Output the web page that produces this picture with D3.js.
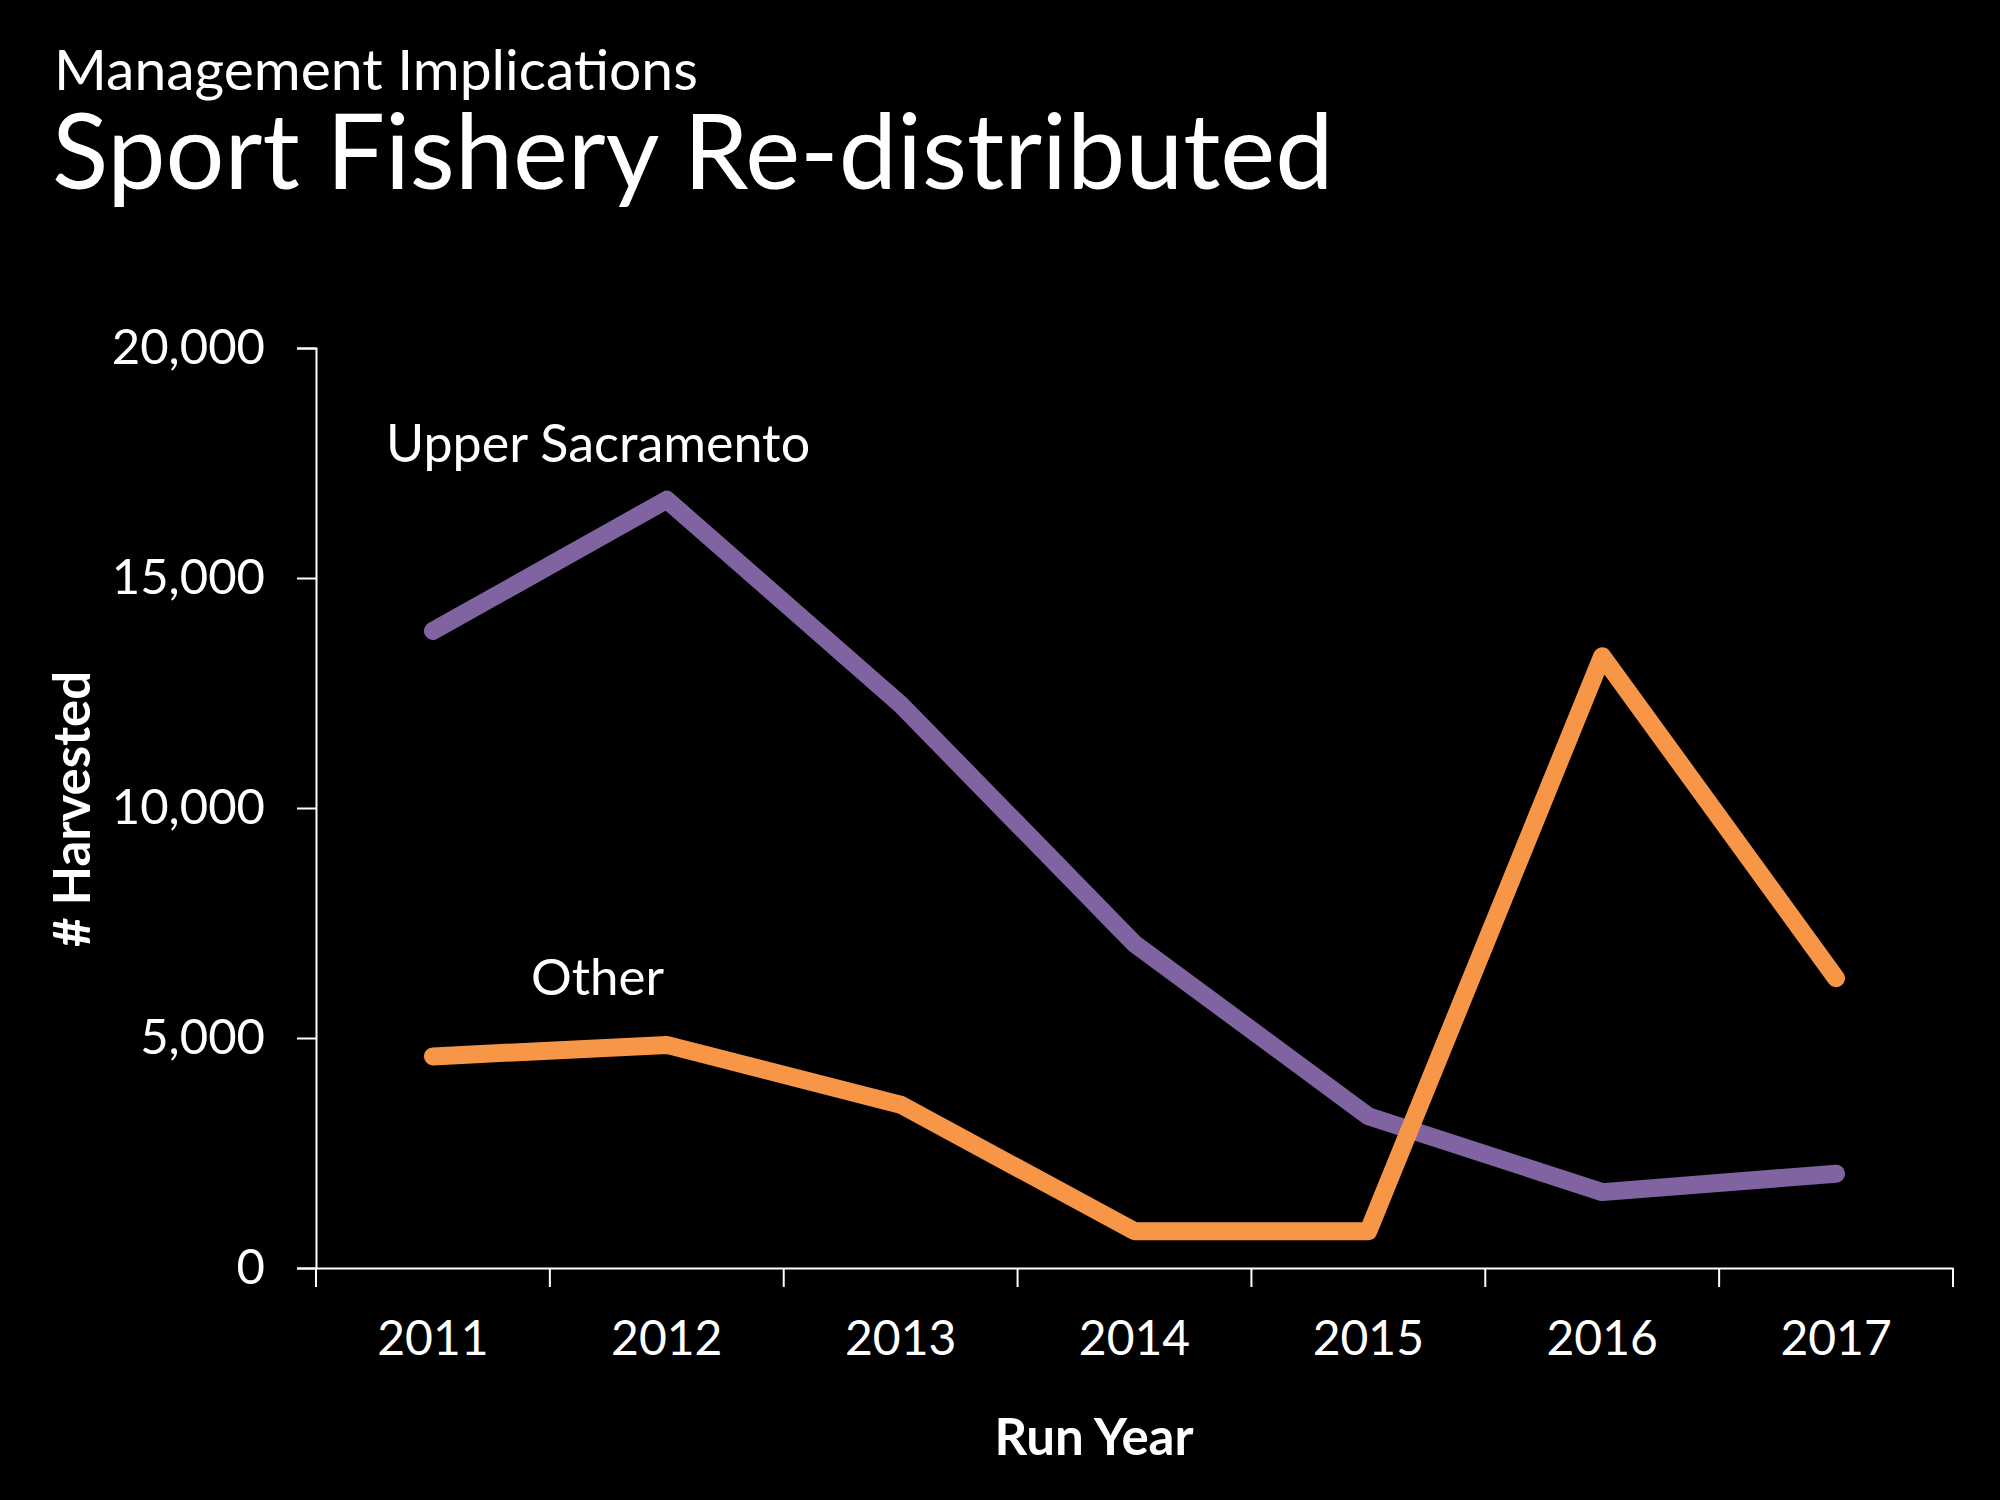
<!DOCTYPE html>
<html>
<head>
<meta charset="utf-8">
<script src="https://cdn.jsdelivr.net/npm/d3@7"></script>
<style>
  html, body { margin: 0; padding: 0; background: #000; }
  svg { display: block; }
  text { font-family: Lato, "Open Sans", sans-serif; fill: #fff; }
</style>
</head>
<body>
<div id="chart"></div>
<script>
// chart data
var years = ["2011", "2012", "2013", "2014", "2015", "2016", "2017"];
var upperSacramento = [13850, 16700, 12250, 7050, 3300, 1650, 2050];
var other = [4600, 4850, 3550, 800, 800, 13300, 6300];
var yTicks = [0, 5000, 10000, 15000, 20000];

var width = 2000, height = 1500;
var margin = {left: 316, right: 47, top: 348, bottom: 232};

var svg = d3.select("#chart").append("svg")
  .attr("width", width)
  .attr("height", height);

svg.append("rect").attr("width", width).attr("height", height).attr("fill", "#000");

// titles
svg.append("text")
  .attr("x", 54).attr("y", 90)
  .style("font-size", "57px")
  .text("Management Implications");
svg.append("text")
  .attr("x", 52).attr("y", 189)
  .style("font-size", "104px")
  .text("Sport Fishery Re-distributed");

var x = d3.scaleBand()
  .domain(years)
  .range([margin.left, width - margin.right]);

var y = d3.scaleLinear()
  .domain([0, 20000])
  .range([height - margin.bottom, margin.top]);

// y axis
var yAxis = svg.append("g")
  .attr("transform", "translate(" + margin.left + ",0)")
  .call(d3.axisLeft(y).tickValues(yTicks).tickFormat(d3.format(",")).tickSize(19).tickPadding(32));
yAxis.selectAll("line, path").attr("stroke", "#fff").attr("stroke-width", 2);
yAxis.selectAll("text").style("font-size", "49px").attr("fill", "#fff").style("font-family", "Lato, sans-serif");

// x axis (labels centred in bands, ticks on band edges)
var xAxis = svg.append("g")
  .attr("transform", "translate(0," + y(0) + ")")
  .call(d3.axisBottom(x).tickSizeInner(0).tickSizeOuter(0).tickPadding(53));
xAxis.select(".domain").attr("stroke", "#fff").attr("stroke-width", 2);
xAxis.selectAll("text").style("font-size", "48px").attr("fill", "#fff").style("font-family", "Lato, sans-serif");

var edges = years.map(function(d) { return x(d); }).concat([x(years[years.length - 1]) + x.step()]);
xAxis.selectAll(".edge").data(edges).enter().append("line")
  .attr("class", "edge")
  .attr("x1", function(d) { return d; })
  .attr("x2", function(d) { return d; })
  .attr("y1", 0).attr("y2", 19)
  .attr("stroke", "#fff").attr("stroke-width", 2);

// axis titles
svg.append("text")
  .attr("x", 1094).attr("y", 1455)
  .attr("text-anchor", "middle")
  .style("font-size", "51px").style("font-weight", "bold")
  .text("Run Year");
svg.append("text")
  .attr("transform", "translate(90,809) rotate(-90)")
  .attr("text-anchor", "middle")
  .style("font-size", "51px").style("font-weight", "bold")
  .text("# Harvested");

// lines
var line = d3.line()
  .x(function(d, i) { return x(years[i]) + x.bandwidth() / 2; })
  .y(function(d) { return y(d); });

svg.append("path")
  .datum(upperSacramento)
  .attr("d", line)
  .attr("fill", "none")
  .attr("stroke", "#8064A2")
  .attr("stroke-width", 18)
  .attr("stroke-linecap", "round")
  .attr("stroke-linejoin", "round");

svg.append("path")
  .datum(other)
  .attr("d", line)
  .attr("fill", "none")
  .attr("stroke", "#F79646")
  .attr("stroke-width", 18)
  .attr("stroke-linecap", "round")
  .attr("stroke-linejoin", "round");

// series labels
svg.append("text")
  .attr("x", 386).attr("y", 462)
  .style("font-size", "52px")
  .text("Upper Sacramento");
svg.append("text")
  .attr("x", 531).attr("y", 995)
  .style("font-size", "51px")
  .text("Other");
</script>
</body>
</html>
